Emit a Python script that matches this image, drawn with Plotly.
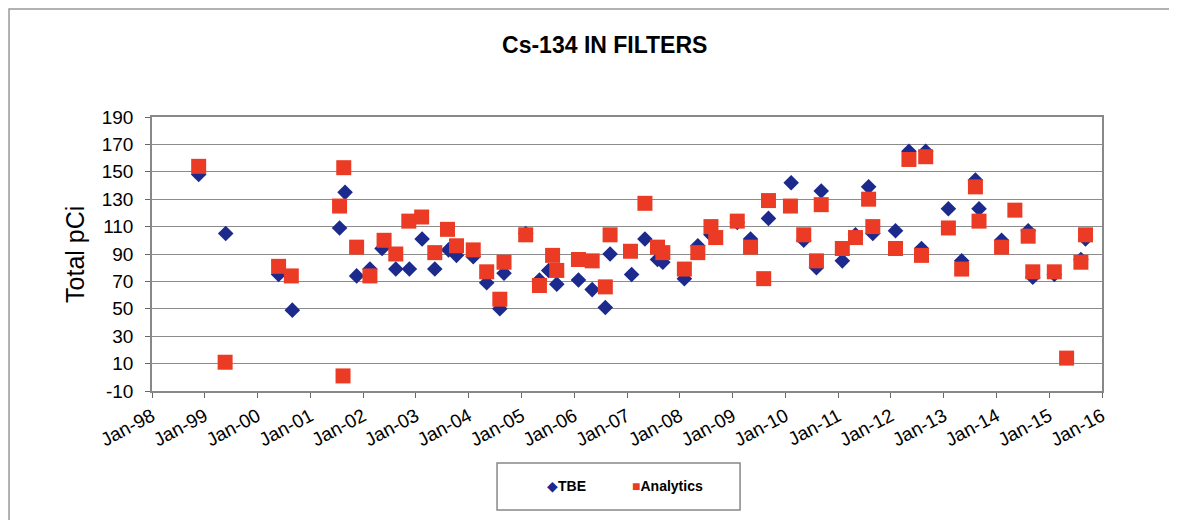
import plotly.graph_objects as go

# TBE results
tbe_dates = [
    "1998-11-20", "1999-05-26", "2000-05-26", "2000-08-29", "2001-07-22", "2001-08-29",
    "2001-11-17", "2002-02-17", "2002-05-12", "2002-08-15", "2002-11-17", "2003-02-13",
    "2003-05-12", "2003-08-15", "2003-10-09", "2004-02-02", "2004-05-05", "2004-08-04",
    "2004-09-02", "2005-01-30", "2005-05-05", "2005-07-08", "2005-09-02", "2006-01-30",
    "2006-05-05", "2006-08-04", "2006-09-06", "2007-02-02", "2007-05-05", "2007-07-31",
    "2007-09-06", "2008-02-02", "2008-05-05", "2008-08-04", "2009-02-02", "2009-05-05",
    "2009-09-06", "2010-02-10", "2010-05-08", "2010-08-04", "2010-09-06", "2011-01-30",
    "2011-05-01", "2011-07-31", "2011-08-29", "2012-02-02", "2012-05-05", "2012-07-31",
    "2012-08-29", "2013-02-02", "2013-05-05", "2013-08-08", "2013-09-02", "2014-02-05",
    "2014-08-08", "2014-09-09", "2015-02-05", "2015-08-08", "2015-09-09",
]
tbe_values = [
    148, 105, 75, 49, 109, 135,
    74, 79, 94, 79, 79, 101,
    79, 93, 89, 88, 69, 50,
    76, 105, 71, 78, 68, 71,
    64, 51, 90, 75, 101, 86,
    84, 72, 96, 104, 113, 101,
    116, 142, 100, 80, 136, 85,
    104, 139, 105, 107, 165, 94,
    165, 123, 85, 144, 123, 100,
    107, 73, 75, 86, 101,
]

# Analytics results
ana_dates = [
    "1998-11-20", "1999-05-22", "2000-05-26", "2000-08-22", "2001-07-22", "2001-08-20",
    "2001-08-15", "2001-11-17", "2002-02-17", "2002-05-26", "2002-08-15", "2002-11-13",
    "2003-02-10", "2003-05-12", "2003-08-08", "2003-10-09", "2004-02-02", "2004-05-05",
    "2004-08-04", "2004-09-02", "2005-01-30", "2005-05-05", "2005-08-04", "2005-09-02",
    "2006-01-30", "2006-05-05", "2006-08-04", "2006-09-06", "2007-01-25", "2007-05-05",
    "2007-07-31", "2007-09-06", "2008-02-02", "2008-05-05", "2008-08-04", "2008-09-06",
    "2009-02-02", "2009-05-05", "2009-08-04", "2009-09-06", "2010-02-05", "2010-05-08",
    "2010-08-04", "2010-09-06", "2011-01-30", "2011-05-01", "2011-07-31", "2011-08-29",
    "2012-02-02", "2012-05-05", "2012-07-31", "2012-08-29", "2013-02-02", "2013-05-05",
    "2013-08-08", "2013-09-02", "2014-02-05", "2014-05-08", "2014-08-08", "2014-09-09",
    "2015-02-05", "2015-05-01", "2015-08-08", "2015-09-09",
]
ana_values = [
    154, 11, 81, 74, 125, 153,
    1, 95, 74, 100, 90, 114,
    117, 91, 108, 96, 93, 77,
    57, 84, 104, 67, 89, 78,
    86, 85, 66, 104, 92, 127,
    95, 91, 79, 91, 110, 102,
    114, 95, 72, 129, 125, 104,
    85, 126, 94, 102, 130, 110,
    94, 159, 89, 161, 109, 79,
    139, 114, 95, 122, 103, 77,
    77, 14, 84, 104,
]

y_ticks = list(range(-10, 191, 20))
y_ticktext = [str(v) for v in y_ticks]  # plain hyphen for -10

FONT = "Arial, Liberation Sans, sans-serif"
TBE_COLOR = "#1b2a8c"
ANA_COLOR = "#ec3b24"

fig = go.Figure()
fig.add_trace(go.Scatter(
    x=tbe_dates, y=tbe_values, mode="markers", name="TBE",
    marker=dict(symbol="diamond", size=12, color=TBE_COLOR),
))
fig.add_trace(go.Scatter(
    x=ana_dates, y=ana_values, mode="markers", name="Analytics",
    marker=dict(symbol="square", size=15, color=ANA_COLOR),
))

# page body has an 8px margin, so everything is nudged up/left a bit
fig.update_layout(
    width=1177, height=520,
    margin=dict(l=144, r=83, t=109, b=137),
    paper_bgcolor="white", plot_bgcolor="white",
    font=dict(family=FONT, size=19, color="black"),
    title=dict(text="<b>Cs-134 IN FILTERS</b>", x=0.507, xanchor="center",
               y=0.929, yanchor="middle", font=dict(size=23, family=FONT)),
    showlegend=False,
)

fig.update_xaxes(
    type="date", range=["1998-01-01", "2016-01-01"],
    dtick="M12", tick0="1998-01-01", tickformat="%b-%y", tickangle=-28,
    ticks="outside", ticklen=5, tickcolor="#666666",
    showgrid=False, showline=True, linecolor="#888888", linewidth=1.5, mirror=True,
    zeroline=False,
)
fig.update_yaxes(
    range=[-10, 190], tickvals=y_ticks, ticktext=y_ticktext,
    ticks="outside", ticklen=5, tickcolor="#666666", ticklabelstandoff=8,
    showgrid=True, gridcolor="#8c8c8c", gridwidth=1.2,
    showline=True, linecolor="#888888", linewidth=1.5, mirror=True,
    zeroline=False,
)

fig.add_annotation(
    text="Total pCi", xref="paper", yref="paper", x=-0.0811, y=0.5,
    xanchor="center", yanchor="middle",
    textangle=-90, showarrow=False, font=dict(size=25, family=FONT),
)

# legend, drawn Excel-style with the marker glyph right before the name
fig.add_annotation(
    text=f"<span style='color:{TBE_COLOR}'>◆</span><b>TBE</b>",
    xref="paper", yref="paper", x=0.4137, y=-0.347, xanchor="left", yanchor="middle",
    showarrow=False, font=dict(size=14, family=FONT),
)
fig.add_annotation(
    text=f"<span style='color:{ANA_COLOR}'>■</span><b>Analytics</b>",
    xref="paper", yref="paper", x=0.5032, y=-0.347, xanchor="left", yanchor="middle",
    showarrow=False, font=dict(size=14, family=FONT),
)

# outer chart frame
fig.add_shape(
    type="rect", xref="paper", yref="paper",
    x0=-0.1505, x1=1.0716, y0=-0.55, y1=1.394,
    line=dict(color="#999999", width=1.5), layer="below",
)
# legend box
fig.add_shape(
    type="rect", xref="paper", yref="paper",
    x0=0.3632, x1=0.619, y0=-0.4343, y1=-0.2628,
    line=dict(color="#888888", width=1.5), layer="below",
)

fig.write_html("out.html")
